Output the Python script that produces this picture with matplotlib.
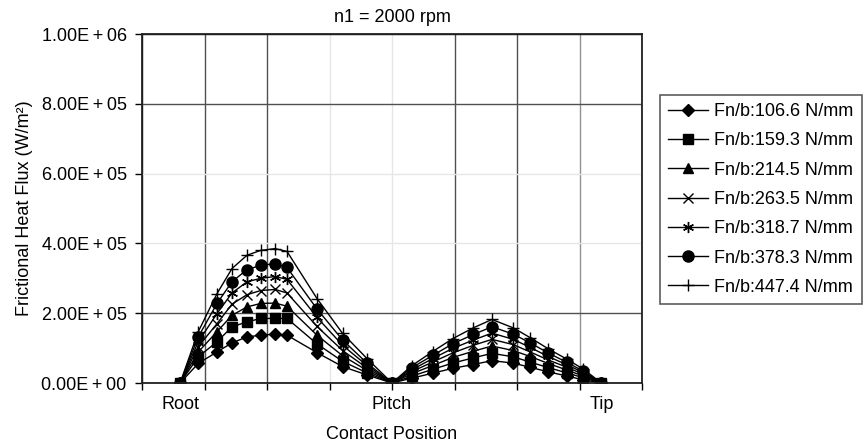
import matplotlib
matplotlib.use("Agg")
import matplotlib.pyplot as plt
from matplotlib.ticker import FuncFormatter, FixedLocator

plt.rcParams['font.family'] = ['Liberation Sans', 'DejaVu Sans']

# ---- data (contact position in axis units, heat flux in kW/m^2) ----
position = [0.61, 0.90, 1.20, 1.44, 1.68, 1.90, 2.13, 2.32, 2.80, 3.21, 3.60, 4.00,
            4.32, 4.65, 4.97, 5.30, 5.60, 5.94, 6.21, 6.50, 6.80, 7.06, 7.35]
position_labels = ["Root", "Pitch", "Tip"]
label_index = [0, 11, 22]

load_labels = ["Fn/b:106.6 N/mm", "Fn/b:159.3 N/mm", "Fn/b:214.5 N/mm",
               "Fn/b:263.5 N/mm", "Fn/b:318.7 N/mm", "Fn/b:378.3 N/mm",
               "Fn/b:447.4 N/mm"]

flux_1066 = [0, 56, 89, 115, 132, 137, 140, 137, 87, 47, 23, 0,
             14, 28, 42, 53, 64, 57, 45, 32, 20, 9, 0]
flux_1593 = [0, 75, 118, 161, 175, 185, 185, 185, 112, 62, 29, 0,
             20, 39, 57, 72, 85, 75, 60, 44, 29, 15, 0]
flux_2145 = [0, 89, 147, 194, 218, 228, 229, 220, 137, 78, 36, 0,
             27, 50, 73, 91, 106, 93, 76, 56, 37, 20, 0]
flux_2635 = [0, 104, 170, 226, 253, 265, 268, 258, 162, 93, 43, 0,
             33, 60, 86, 108, 125, 110, 89, 66, 45, 25, 0]
flux_3187 = [0, 118, 199, 258, 290, 300, 305, 297, 188, 108, 50, 0,
             38, 70, 99, 123, 143, 125, 102, 76, 52, 30, 0]
flux_3783 = [0, 132, 228, 290, 325, 337, 342, 331, 212, 123, 57, 0,
             44, 79, 112, 139, 161, 140, 115, 86, 59, 34, 0]
flux_4474 = [0, 147, 256, 328, 366, 380, 385, 377, 242, 142, 70, 0,
             50, 90, 127, 158, 182, 158, 130, 98, 68, 40, 0]

series = [flux_1066, flux_1593, flux_2145, flux_2635, flux_3187, flux_3783, flux_4474]
y_ticks = [0, 200000, 400000, 600000, 800000, 1000000]
x_grid = [0, 1, 2, 3, 4, 5, 6, 7, 8]

# ---- style ----
markers = ['D', 's', '^', 'x', (6, 2, 0), 'o', '+']
msizes = [6.5, 7, 7.5, 7, 8, 8, 9]
FS = 13

fig = plt.figure(figsize=(8.66, 4.48), dpi=100)
ax = fig.add_axes([142 / 866, 1 - 383 / 448, 500 / 866, 349 / 448])

for vals, lab, m, ms in zip(series, load_labels, markers, msizes):
    ax.plot(position, [v * 1000 for v in vals], color='black', lw=1.0,
            marker=m, markersize=ms, markerfacecolor='black',
            markeredgecolor='black', markeredgewidth=1.0, label=lab)

ax.set_xlim(x_grid[0], x_grid[-1])
ax.set_ylim(y_ticks[0], y_ticks[-1])
ax.xaxis.remove_overlapping_locs = False
ax.xaxis.set_major_locator(FixedLocator(x_grid))
ax.xaxis.set_major_formatter(FuncFormatter(lambda v, p: ""))
ax.xaxis.set_minor_locator(FixedLocator([position[i] for i in label_index]))
ax.xaxis.set_minor_formatter(FuncFormatter(
    lambda v, p: position_labels[p] if p is not None and p < len(position_labels) else ""))
ax.tick_params(axis='x', which='minor', length=0, pad=9, labelsize=FS)
ax.tick_params(axis='x', which='major', direction='out', length=5, width=1)
ax.yaxis.set_major_locator(FixedLocator(y_ticks))
ax.yaxis.set_major_formatter(FuncFormatter(
    lambda v, p: f"{v:.2E}".replace("+", "\u2009+\u2009")))
ax.tick_params(axis='y', direction='out', length=5, width=1, labelsize=FS, pad=6)

ax.grid(True, which='major', lw=1.0)
xg_cols = ['#000000', '#505050', '#505050', '#e6e6e6', '#e6e6e6', '#505050', '#505050', '#909090', '#000000']
for gl, c in zip(ax.xaxis.get_gridlines(), xg_cols):
    gl.set_color(c)
yg_cols = ['#000000', '#505050', '#e6e6e6', '#e6e6e6', '#505050', '#000000']
for gl, c in zip(ax.yaxis.get_gridlines(), yg_cols):
    gl.set_color(c)
ax.set_axisbelow(True)
for s in ax.spines.values():
    s.set_linewidth(1.3)
    s.set_color('#222222')

ax.set_title("n1 = 2000 rpm", fontsize=FS, pad=9)
ax.set_xlabel("Contact Position", fontsize=FS, labelpad=10)
ax.set_ylabel("Frictional Heat Flux (W/m²)", fontsize=FS, labelpad=6)

leg = ax.legend(loc='upper left', bbox_to_anchor=(660 / 866, 1 - 95 / 448),
                bbox_transform=fig.transFigure, borderaxespad=0, fontsize=FS,
                frameon=True, fancybox=False, edgecolor='#333333',
                handlelength=2.2, handletextpad=0.35, labelspacing=0.68,
                borderpad=0.45)
leg.get_frame().set_linewidth(1.2)

fig.savefig("out.png", dpi=100)
